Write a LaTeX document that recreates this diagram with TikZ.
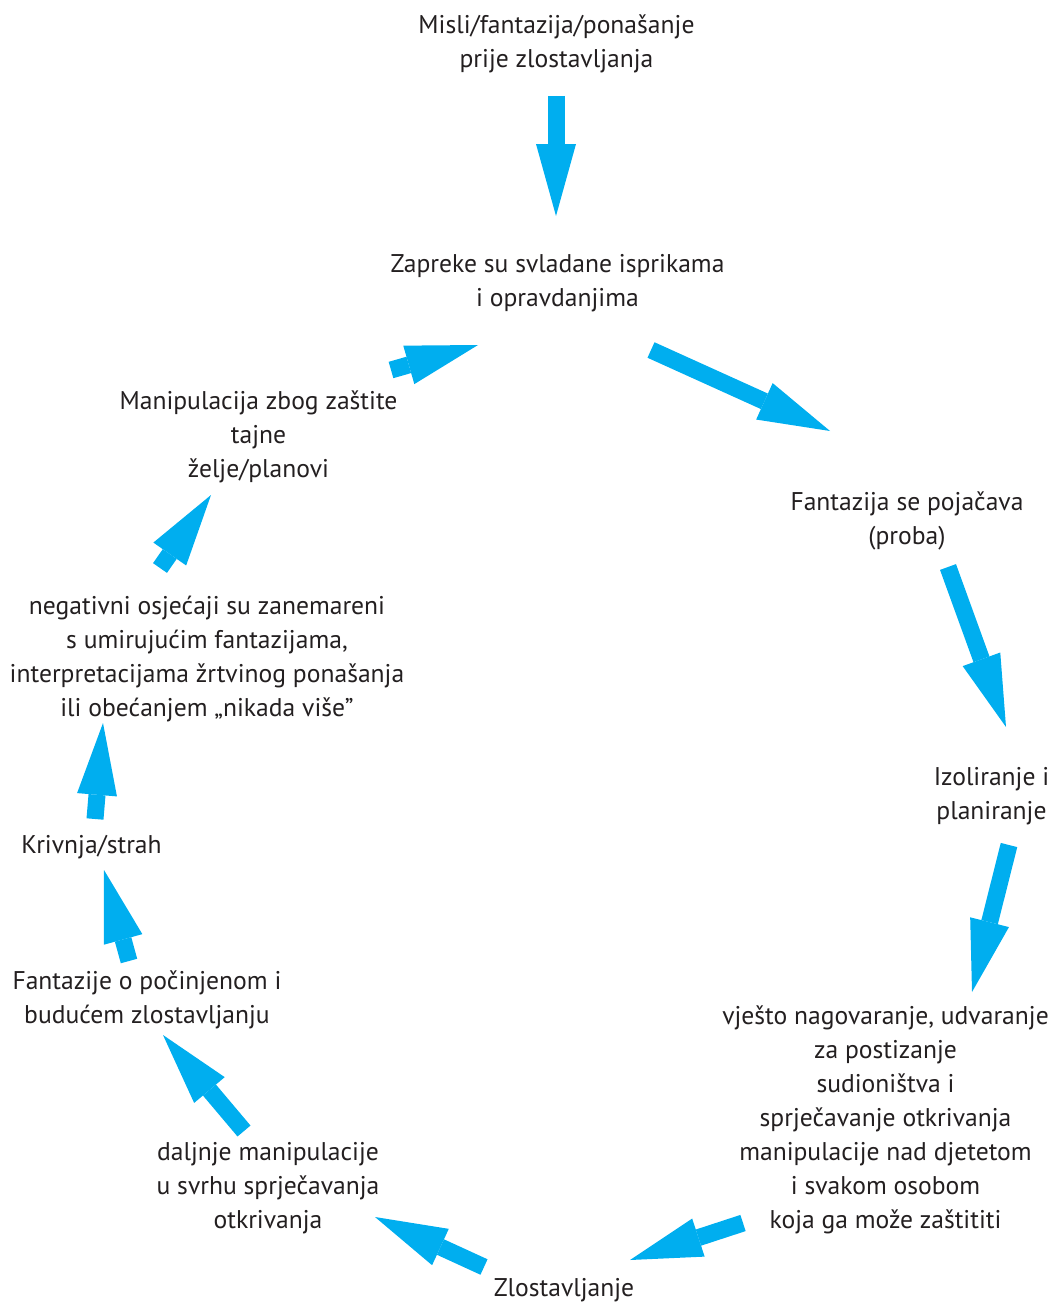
\documentclass[tikz,border=0pt]{standalone}
\usepackage{fontspec}
\setmainfont{PT Sans}
\usetikzlibrary{arrows.meta}
\definecolor{arrowcyan}{RGB}{0,174,239}
\definecolor{txt}{RGB}{35,31,32}
\tikzset{
  lbl/.style={anchor=north, align=center, inner sep=0pt, text=txt,
    font=\fontsize{25.6}{34}\selectfont},
  bigarrow/.style={draw=arrowcyan, line width=17pt,
    -{Triangle[length=72pt,width=40pt,line width=0pt]}, fill=arrowcyan}
}
\begin{document}
\begin{tikzpicture}[x=1pt,y=-1pt]
\useasboundingbox (0,0) rectangle (1052,1303);
% texts
\node[lbl] (n1) at (556.5,9.2) {\strut Misli/fantazija/ponašanje\\prije zlostavljanja\strut};
\node[lbl] (n2) at (557.5,248.2) {\strut Zapreke su svladane isprikama\\i opravdanjima\strut};
\node[lbl] (n3) at (907,486.2) {\strut Fantazija se pojačava\\(proba)\strut};
\node[lbl] (n4) at (991.5,761.2) {\strut Izoliranje i\\planiranje\strut};
\node[lbl] (n5) at (885.5,1000.2) {\strut vješto nagovaranje, udvaranje\\za postizanje\\sudioništva i\\sprječavanje otkrivanja\\manipulacije nad djetetom\\i svakom osobom\\koja ga može zaštititi\strut};
\node[lbl] (n6) at (564,1272.2) {\strut Zlostavljanje\strut};
\node[lbl] (n7) at (268,1136.2) {\strut daljnje manipulacije\\u svrhu sprječavanja\\otkrivanja\strut};
\node[lbl] (n8) at (147,965.2) {\strut Fantazije o počinjenom i\\budućem zlostavljanju\strut};
\node[lbl] (n9) at (91.5,829.2) {\strut Krivnja/strah\strut};
\node[lbl] (n10) at (207,590.2) {\strut negativni osjećaji su zanemareni\\s umirujućim fantazijama,\\interpretacijama žrtvinog ponašanja\\ili obećanjem „nikada više"\strut};
\node[lbl] (n11) at (258.5,385.2) {\strut Manipulacija zbog zaštite\\tajne\\želje/planovi\strut};
% arrow end points
\coordinate (a1s) at (556,96);   \coordinate (a1e) at (556,216);
\coordinate (a2s) at (651,350);  \coordinate (a2e) at (830,431);
\coordinate (a3s) at (948,567);  \coordinate (a3e) at (1006,727);
\coordinate (a4s) at (1009,845); \coordinate (a4e) at (972,992);
\coordinate (a5s) at (743,1223); \coordinate (a5e) at (630,1260);
\coordinate (a6s) at (484,1267); \coordinate (a6e) at (375,1217);
\coordinate (a7s) at (244,1131); \coordinate (a7e) at (163,1035);
\coordinate (a8s) at (129,961);  \coordinate (a8e) at (104,870);
\coordinate (a9s) at (95,819);   \coordinate (a9e) at (103,723);
\coordinate (a10s) at (160,568); \coordinate (a10e) at (211,495);
\coordinate (a11s) at (391,370); \coordinate (a11e) at (478,345);
\foreach \i in {1,...,11} \draw[bigarrow] (a\i s) -- (a\i e);
\end{tikzpicture}
\end{document}
